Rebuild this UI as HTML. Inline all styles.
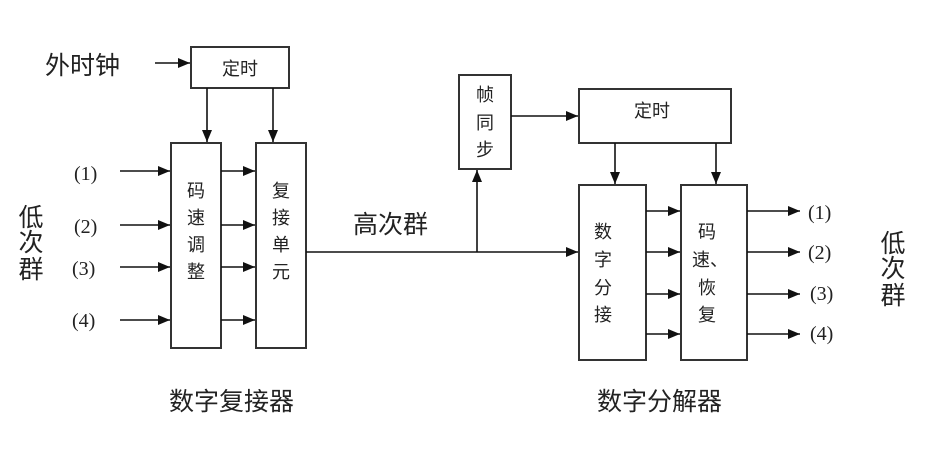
<!DOCTYPE html>
<html><head><meta charset="utf-8"><style>
html,body{margin:0;padding:0;background:#fff;}
svg{display:block;}
text{font-family:"Liberation Sans","Noto Sans CJK SC",sans-serif;fill:#222;}
.s{font-family:"Liberation Serif","Noto Serif CJK SC",serif;}
</style></head><body>
<svg width="937" height="462" viewBox="0 0 937 462" xmlns="http://www.w3.org/2000/svg">
<defs>
<marker id="a" markerWidth="12" markerHeight="10" refX="12" refY="5" orient="auto" markerUnits="userSpaceOnUse">
<path d="M0,0 L12,5 L0,10 z" fill="#111"/></marker>
</defs>
<g stroke="#333" stroke-width="2" fill="none">
<rect x="191" y="47" width="98" height="41"/>
<rect x="171" y="143" width="50" height="205"/>
<rect x="256" y="143" width="50" height="205"/>
<rect x="459" y="75" width="52" height="94"/>
<rect x="579" y="89" width="152" height="54"/>
<rect x="579" y="185" width="67" height="175"/>
<rect x="681" y="185" width="66" height="175"/>
</g>
<g stroke="#111" stroke-width="1.6" fill="none" marker-end="url(#a)">
<line x1="155" y1="63" x2="190" y2="63"/>
<line x1="207" y1="88" x2="207" y2="142"/>
<line x1="273" y1="88" x2="273" y2="142"/>
<line x1="120" y1="171" x2="170" y2="171"/>
<line x1="120" y1="225" x2="170" y2="225"/>
<line x1="120" y1="267" x2="170" y2="267"/>
<line x1="120" y1="320" x2="170" y2="320"/>
<line x1="221" y1="171" x2="255" y2="171"/>
<line x1="221" y1="225" x2="255" y2="225"/>
<line x1="221" y1="267" x2="255" y2="267"/>
<line x1="221" y1="320" x2="255" y2="320"/>
<line x1="306" y1="252" x2="578" y2="252"/>
<line x1="477" y1="252" x2="477" y2="170"/>
<line x1="511" y1="116" x2="578" y2="116"/>
<line x1="615" y1="143" x2="615" y2="184"/>
<line x1="716" y1="143" x2="716" y2="184"/>
<line x1="646" y1="211" x2="680" y2="211"/>
<line x1="646" y1="252" x2="680" y2="252"/>
<line x1="646" y1="294" x2="680" y2="294"/>
<line x1="646" y1="334" x2="680" y2="334"/>
<line x1="747" y1="211" x2="800" y2="211"/>
<line x1="747" y1="252" x2="800" y2="252"/>
<line x1="747" y1="294" x2="800" y2="294"/>
<line x1="747" y1="334" x2="800" y2="334"/>
</g>
<text x="45" y="74" font-size="25">外时钟</text>
<text x="240" y="75" font-size="18" text-anchor="middle">定时</text>
<text x="652" y="117" font-size="18" text-anchor="middle">定时</text>
<g font-size="20" class="s">
<text class="s" x="74" y="180">(1)</text>
<text class="s" x="74" y="233">(2)</text>
<text class="s" x="72" y="275">(3)</text>
<text class="s" x="72" y="327">(4)</text>
<text class="s" x="808" y="219">(1)</text>
<text class="s" x="808" y="259">(2)</text>
<text class="s" x="810" y="300">(3)</text>
<text class="s" x="810" y="340">(4)</text>
</g>
<g font-size="25" text-anchor="middle">
<text x="31" y="226">低</text><text x="31" y="251">次</text><text x="31" y="278">群</text>
<text x="893" y="252">低</text><text x="893" y="277">次</text><text x="893" y="304">群</text>
</g>
<g font-size="18" text-anchor="middle">
<text x="196" y="197">码</text><text x="196" y="224">速</text><text x="196" y="251">调</text><text x="196" y="278">整</text>
<text x="281" y="197">复</text><text x="281" y="224">接</text><text x="281" y="251">单</text><text x="281" y="278">元</text>
<text x="485" y="101">帧</text><text x="485" y="129">同</text><text x="485" y="156">步</text>
<text x="603" y="238">数</text><text x="603" y="266">字</text><text x="603" y="294">分</text><text x="603" y="321">接</text>
<text x="707" y="238">码</text><text x="710" y="266">速、</text><text x="707" y="294">恢</text><text x="707" y="321">复</text>
</g>
<text x="353" y="233" font-size="25">高次群</text>
<text x="169" y="410" font-size="25">数字复接器</text>
<text x="597" y="410" font-size="25">数字分解器</text>
</svg>
</body></html>
